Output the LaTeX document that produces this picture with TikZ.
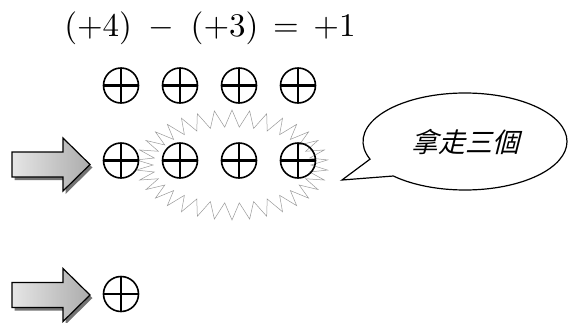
\documentclass[tikz,border=0pt]{standalone}
\usepackage{fontspec}
\usepackage{graphicx}
\usepackage{tikz}
\usetikzlibrary{shapes.symbols,shapes.callouts,calc}
\newfontfamily\cjk[FakeSlant=0.25]{Noto Sans CJK TC}

\begin{document}
\begin{tikzpicture}[x=1pt,y=-1pt,
 token/.style={circle,draw,line width=1.6pt,minimum size=35pt,inner sep=0pt,
  path picture={\draw[line width=2.3pt] (path picture bounding box.north)--(path picture bounding box.south)
   (path picture bounding box.west)--(path picture bounding box.east);}},
 burst/.style={starburst,draw=gray!80,line width=0.5pt,random starburst=0,starburst points=34,
  starburst point height=17pt,minimum width=192pt,minimum height=110pt,inner sep=0pt},
 bubble/.style={ellipse callout,draw,line width=1.2pt,minimum width=204pt,minimum height=97pt,
  callout pointer arc=24,font=\cjk\fontsize{27}{30}\selectfont},
 blockarrow/.pic={
  \fill[black!55,shift={(2.5,3)}] (0,-12.5)--(51,-12.5)--(51,-26.5)--(78,0)--(51,26.5)--(51,12.5)--(0,12.5)--cycle;
  \draw[line width=1.2pt,left color=gray!20,right color=gray!65]
   (0,-12.5)--(51,-12.5)--(51,-26.5)--(78,0)--(51,26.5)--(51,12.5)--(0,12.5)--cycle;}]
\useasboundingbox (0,0) rectangle (568,322);
\node (eq) at (210,28) {\scalebox{3.3}{$(+4)\;-\;(+3)\,=\,+1$}};
\node[burst] (zap) at (232,165) {};
\foreach \i in {1,...,4} {
 \node[token] (a\i) at ({121+59*(\i-1)},85.5) {};
 \node[token] (b\i) at ({121+59*(\i-1)},160.5) {};
}
\node[token] (c1) at (121,294) {};
\pic (arrB) at (12,164.5) {blockarrow};
\pic (arrC) at (12,295) {blockarrow};
\coordinate (tip) at (342,180);
\node[bubble,callout absolute pointer={(tip)}] (say) at (465,141.5) {拿走三個};
\end{tikzpicture}
\end{document}
